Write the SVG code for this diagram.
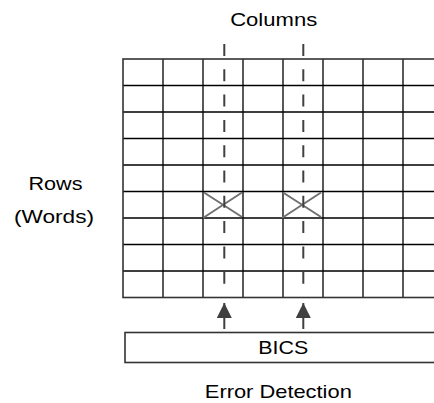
<svg xmlns="http://www.w3.org/2000/svg" width="434" height="403" viewBox="0 0 434 403">
<defs>
<style>
.lbl{font-family:"Liberation Sans",Arial,sans-serif;font-size:18.5px;fill:#000;text-anchor:middle}
.grid{stroke:#000;stroke-width:1.3;fill:none}
.border{stroke:#333;stroke-width:1.6;fill:none}
.dash{stroke:#404040;stroke-width:2;stroke-dasharray:12 13.3;fill:none}
.xmark{stroke:#707070;stroke-width:2;fill:none}
.arrow{stroke:#404040;stroke-width:2;fill:none}
</style>
<marker id="ah" viewBox="0 0 10 10" refX="10" refY="5" markerWidth="7.5" markerHeight="7.5" markerUnits="strokeWidth" orient="auto">
<path d="M0,0 L10,5 L0,10 z" fill="#404040"/>
</marker>
</defs>
<rect width="434" height="403" fill="#fff"/>
<g id="memory-array">
<path class="grid" d="M123,85.5H440M123,112H440M123,138.5H440M123,165H440M123,191.5H440M123,218H440M123,244.5H440M123,271H440M163,59V297.5M203,59V297.5M243,59V297.5M283,59V297.5M323,59V297.5M363,59V297.5M403,59V297.5"/>
<rect class="border" x="123" y="59" width="320" height="238.5"/>
</g>
<g id="error-marks">
<path class="xmark" d="M203,218L242,192.5M204,192.5L242,217"/>
<path class="xmark" d="M282,218L321,192.5M283,192.5L321,217"/>
</g>
<g id="bics">
<rect class="border" x="125" y="332.5" width="320" height="30" fill="#fff"/>
<text class="lbl" x="283.3" y="354" textLength="50" lengthAdjust="spacingAndGlyphs">BICS</text>
</g>
<g id="connectors">
<path class="dash" d="M224.3,44V297"/>
<path class="dash" d="M303.3,44V297"/>
<path class="arrow" d="M224.3,329V303" marker-end="url(#ah)"/>
<path class="arrow" d="M303.3,329V303" marker-end="url(#ah)"/>
</g>
<g id="labels">
<text class="lbl" x="273.7" y="26" textLength="87" lengthAdjust="spacingAndGlyphs">Columns</text>
<text class="lbl" x="55.5" y="190" textLength="54" lengthAdjust="spacingAndGlyphs">Rows</text>
<text class="lbl" x="54" y="222.5" textLength="80" lengthAdjust="spacingAndGlyphs">(Words)</text>
<text class="lbl" x="278.3" y="398" textLength="147" lengthAdjust="spacingAndGlyphs">Error Detection</text>
</g>
</svg>
